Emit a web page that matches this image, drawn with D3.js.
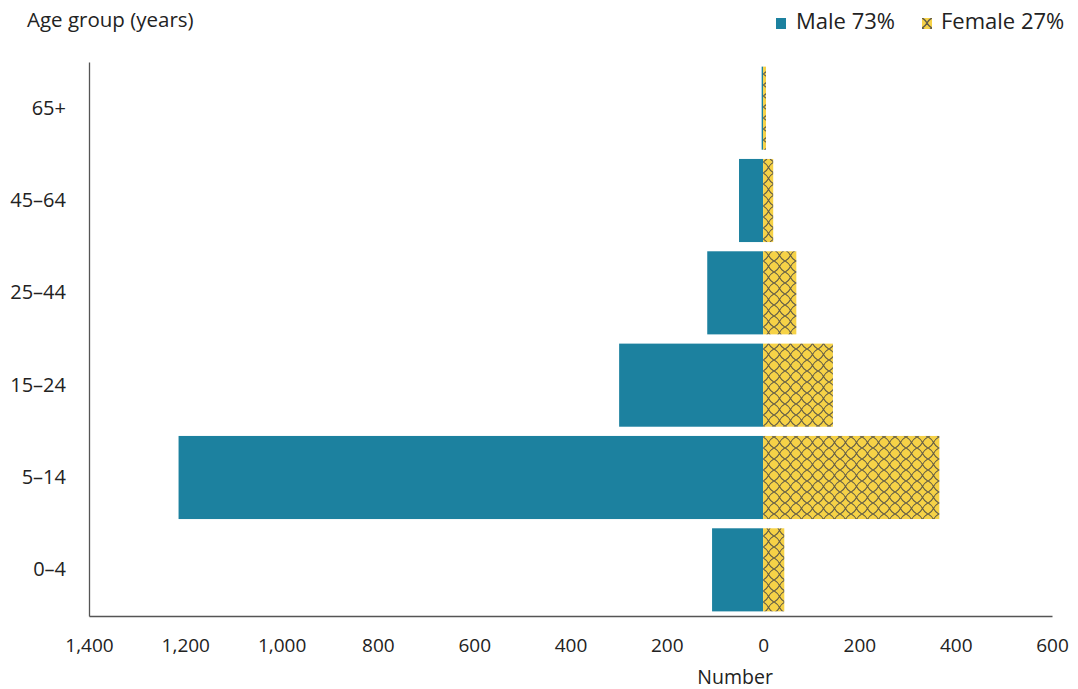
<!DOCTYPE html>
<html><head><meta charset="utf-8">
<script src="https://cdn.jsdelivr.net/npm/d3@7"></script>
<style>body{margin:0;background:#fff;} text{font-family:"Open Sans","Noto Sans",sans-serif;fill:#222;}</style>
</head><body>
<svg id="c" width="1078" height="689"></svg>
<script>
const categories = ["0–4","5–14","15–24","25–44","45–64","65+"];
const maleValues = [106, 1214, 299, 116, 50, 3];
const femaleValues = [44, 366, 145, 69, 21, 6];
const tickValues = [-1400,-1200,-1000,-800,-600,-400,-200,0,200,400,600];
const seriesNames = ["Male 73%","Female 27%"];
const colors = {male:"#1C819F", female:"#F6D247"};

const svg = d3.select("#c");
const margin = {left:89, right:26, top:62, bottom:73};
const W = 1078, H = 689;
const x = d3.scaleLinear().domain([-1400,600]).range([margin.left, W - margin.right]);
const y = d3.scaleBand().domain(categories.slice().reverse()).range([margin.top, H - margin.bottom]).paddingInner(0.1).paddingOuter(0.05);

const defs = svg.append("defs");
function makePattern(id, T, ox, oy, sw) {
  const pat = defs.append("pattern").attr("id",id).attr("patternUnits","userSpaceOnUse")
    .attr("width",T).attr("height",T).attr("x", ox).attr("y", oy);
  pat.append("rect").attr("width",T).attr("height",T).attr("fill",colors.female);
  const h = T/2, b = T*0.08;
  pat.append("path").attr("d",
      `M0,0 Q${h/2+b},${h/2-b} ${h},${h} Q${h+h/2-b},${h+h/2+b} ${T},${T} ` +
      `M${T},0 Q${h+h/2-b},${h/2-b} ${h},${h} Q${h/2+b},${h+h/2+b} 0,${T}`)
    .attr("fill","none").attr("stroke","#454545").attr("stroke-width",sw).attr("stroke-opacity",0.85);
}
makePattern("hatch", 11, 763, 437, 1.1);
makePattern("hatchL", 10, 922, 18, 1.4);

const rowsData = categories.map((c,i)=>({cat:c, male:maleValues[i], female:femaleValues[i]}));

svg.append("g").selectAll("rect").data(rowsData).join("rect")
  .attr("x", d=>x(-d.male)).attr("width", d=>x(0)-x(-d.male))
  .attr("y", d=>y(d.cat)).attr("height", y.bandwidth())
  .attr("fill", colors.male);
svg.append("g").selectAll("rect").data(rowsData).join("rect")
  .attr("x", x(0)).attr("width", d=>x(d.female)-x(0))
  .attr("y", d=>y(d.cat)).attr("height", y.bandwidth())
  .attr("fill", "url(#hatch)");

// axes
const xAxis = d3.axisBottom(x).tickValues(tickValues).tickSize(0).tickPadding(23)
  .tickFormat(d=>d3.format(",")(Math.abs(d)));
const gx = svg.append("g").attr("transform",`translate(0,${H-margin.bottom})`).call(xAxis);
gx.select(".domain").attr("stroke","#555").attr("stroke-width",1.3);
gx.selectAll("text").attr("font-size",19).style("fill","#222");

const yAxis = d3.axisLeft(y).tickSize(0).tickPadding(23);
const gy = svg.append("g").attr("transform",`translate(${margin.left},0)`).call(yAxis);
gy.select(".domain").attr("stroke","#555").attr("stroke-width",1.3);
gy.selectAll("text").attr("font-size",20).style("fill","#222");

svg.append("text").attr("x",27).attr("y",27).attr("font-size",20.5).text("Age group (years)");
svg.append("text").attr("x",x(0)-28).attr("y",684).attr("text-anchor","middle").attr("font-size",19.5).text("Number");

// legend
const lg = svg.append("g");
lg.append("rect").attr("x",776).attr("y",18).attr("width",10).attr("height",11).attr("fill",colors.male);
lg.append("text").attr("x",796).attr("y",29).attr("font-size",22).text(seriesNames[0]);
lg.append("rect").attr("x",922).attr("y",18).attr("width",10).attr("height",11).attr("fill","url(#hatchL)");
lg.append("text").attr("x",941).attr("y",29).attr("font-size",22).text(seriesNames[1]);
</script>
</body></html>
